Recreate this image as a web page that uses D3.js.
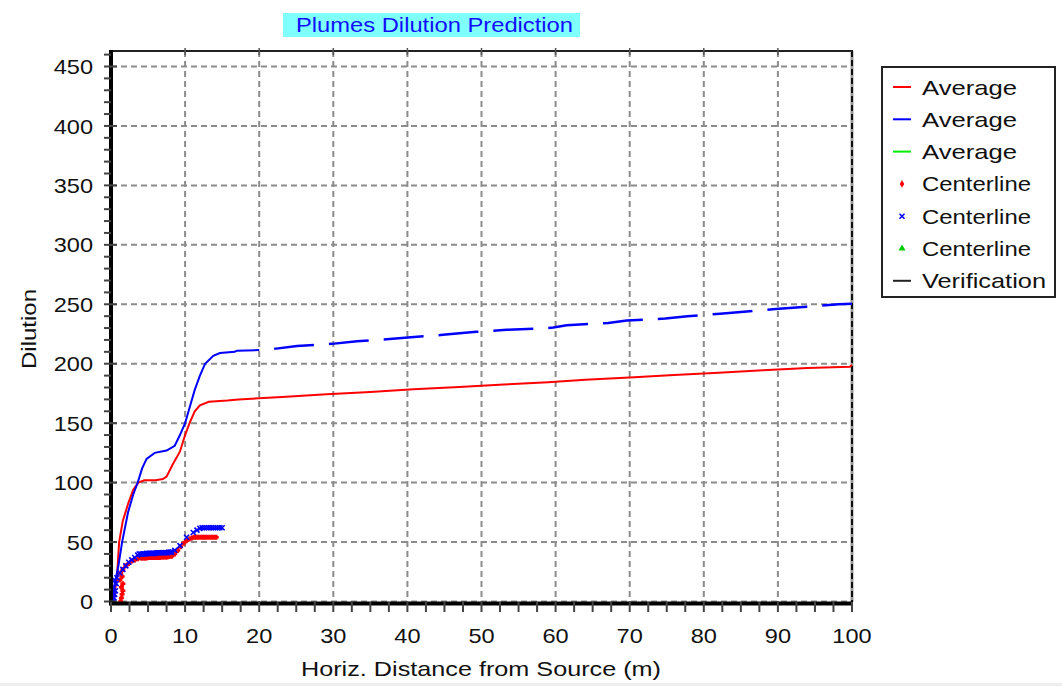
<!DOCTYPE html>
<html><head><meta charset="utf-8">
<script src="https://cdn.jsdelivr.net/npm/d3@7"></script>
<style>
html,body{margin:0;padding:0;background:#fff;}
svg{display:block;font-family:"Liberation Sans",Arial,sans-serif;}
</style></head>
<body>
<svg id="c" width="1062" height="686"></svg>
<script>
// ---------- DATA ----------
const xTicks = [0,10,20,30,40,50,60,70,80,90,100];
const yTicks = [0,50,100,150,200,250,300,350,400,450];

// Average dilution (red)
const redAvgX = [0.4,0.8,1.1,1.6,2.3,3.0,3.7,4.5,6.0,7.0,7.5,8.3,9.3,10.0,10.6,11.3,12.0,13.2,15.7,17.2,23.1,29.1,35.0,40.8,47,53,59,64,70,76,82,88,94,99.7,100];
const redAvgY = [3,20,50,68,82,94,100,102,102,103,105,115,126,140,150,160,165,168,169,170,172,174.3,176.3,178.5,180.5,182.5,184.5,186.5,188.5,190.5,192.5,194.5,196.5,197.5,199];

// Average dilution (blue), solid part
const blueAvgX = [0.2,0.5,1.0,1.5,2.3,3.0,3.6,4.2,4.8,5.9,7.5,8.6,9.3,10.0,10.6,11.3,12.0,12.7,13.8,14.7,16.7,17.0,20.0];
const blueAvgY = [0,15,30,50,75,90,100,112,120,125,127,131,140,150,163,178,190,200,206.6,209,210,211,211.5];
// Average dilution (blue), far part (dashed)
const blueFarX = [20.0,22.3,25.1,29.8,33.2,37.2,41.3,44.8,49.3,53.4,57.4,59.7,61.5,67.1,69.6,74.8,77.8,82.2,85.8,89.7,93.9,98.2,100];
const blueFarY = [211.5,212.7,215,216.7,219,220.6,222.6,224.3,226.8,228.5,229.5,230.4,232.4,234.3,236.3,238,240,242,244,246,248,250,250.5];

// Centerline dilution (red markers)
const redCX = [1.3,1.4,1.5,1.6,1.4,1.6,1.2,1.5,1.3,1.6,2.0,2.4,2.8,3.2,3.6,4.0,
  4.2,4.4,4.6,4.8,5.0,5.2,5.4,5.6,5.8,6.0,6.2,6.4,6.6,6.8,7.0,7.2,7.4,7.6,7.8,8.0,8.2,
  8.6,9.0,9.4,9.8,10.2,10.6,10.9,11.2,11.5,11.8,12.1,12.4,12.7,13.0,13.3,13.6,13.9,14.2];
const redCY = [0,3,6,9,12,15,18,21,24,27,30,32,34,35,36,36.5,
  36.5,36.5,36.5,36.5,37,37,37,37,37,37,37,37,37,37.5,37.5,37.5,37.5,37.5,38,38,38,
  40,43,46,49,51,52.5,53.5,54,54,54,54,54,54,54,54,54,54,54];

// Centerline dilution (blue markers)
const blueCX = [0.3,0.4,0.5,0.6,0.4,0.7,0.5,0.8,1.2,1.6,2.0,2.4,2.8,3.2,3.6,
  3.8,4.0,4.2,4.4,4.6,4.8,5.0,5.2,5.4,5.6,5.8,6.0,6.2,6.4,6.6,6.8,7.0,7.2,7.4,7.6,7.8,8.0,8.2,
  8.6,9.3,10.2,11.1,11.6,12.0,12.3,12.6,12.9,13.2,13.5,13.8,14.1,14.4,14.7,15.0];
const blueCY = [0,3,6,9,12,15,18,20,24,27,30,33,35,37,39,
  40,40,40,40,40,40.5,40.5,40.5,40.5,40.5,40.5,40.5,41,41,41,41,41,41,41,41,41.5,41.5,41.5,
  43,47,54,58,60,61.5,62,62,62,62,62,62,62,62,62,62];

const legendLabels = ["Average","Average","Average","Centerline","Centerline","Centerline","Verification"];
const legendColors = ["#ff0000","#0000ff","#00ee00","#ff0000","#0000ff","#00cc00","#222222"];
const legendKinds  = ["line","line","line","plus","cross","tri","line"];

// ---------- CHART ----------
const svg = d3.select("#c");
const L=111, R=852, T=51, B=602;
const x = d3.scaleLinear().domain([0,100]).range([L,R]);
const y = d3.scaleLinear().domain([0,450]).range([601.5,66.5]);
const FS = 21;

// bottom light band
svg.append("rect").attr("x",0).attr("y",683).attr("width",1062).attr("height",3).attr("fill","#eeeeee");

// grid
const grid = svg.append("g").attr("stroke","#8c8c8c").attr("stroke-width",2).attr("stroke-dasharray","6,4");
grid.selectAll("line.v").data(xTicks.filter(d=>d>0&&d<100)).join("line")
  .attr("x1",d=>x(d)).attr("x2",d=>x(d)).attr("y1",T).attr("y2",B);
grid.selectAll("line.h").data(yTicks).join("line")
  .attr("y1",d=>y(d)).attr("y2",d=>y(d)).attr("x1",L).attr("x2",R);

// right border (dashed dark over gray)
svg.append("line").attr("x1",R).attr("x2",R).attr("y1",T).attr("y2",B).attr("stroke","#999").attr("stroke-width",3);
svg.append("line").attr("x1",R).attr("x2",R).attr("y1",T).attr("y2",B).attr("stroke","#111").attr("stroke-width",2).attr("stroke-dasharray","6,3");
// top border
svg.append("line").attr("x1",L).attr("x2",R+1).attr("y1",T).attr("y2",T).attr("stroke","#222").attr("stroke-width",2);
// top ticks at majors
svg.append("g").selectAll("line").data(xTicks.filter(d=>d>0&&d<100)).join("line")
  .attr("x1",d=>x(d)).attr("x2",d=>x(d)).attr("y1",T-3).attr("y2",T+4).attr("stroke","#555").attr("stroke-width",1.5);

// lines
const line = d3.line().x(d=>x(d[0])).y(d=>y(d[1]));
const zip = (a,b)=>a.map((v,i)=>[v,b[i]]);
const plot = svg.append("g");
plot.append("path").attr("d",line(zip(redAvgX,redAvgY))).attr("fill","none").attr("stroke","#ff0000").attr("stroke-width",2);
plot.append("path").attr("d",line(zip(blueAvgX,blueAvgY))).attr("fill","none").attr("stroke","#0000ff").attr("stroke-width",2);
plot.append("path").attr("d",line(zip(blueFarX,blueFarY))).attr("fill","none").attr("stroke","#0000ff").attr("stroke-width",2.5)
  .attr("stroke-dasharray","40,15").attr("stroke-dashoffset",40);

// markers
const plusPath = "M-2.5,0L2.5,0M0,-2.5L0,2.5";
const crossPath = "M-2.5,-2.5L2.5,2.5M2.5,-2.5L-2.5,2.5";
plot.append("g").selectAll("path").data(zip(redCX,redCY)).join("path")
  .attr("transform",d=>`translate(${x(d[0])},${y(d[1])})`).attr("d",plusPath)
  .attr("stroke","#ff0000").attr("stroke-width",2.5).attr("fill","none");
plot.append("g").selectAll("path").data(zip(blueCX,blueCY)).join("path")
  .attr("transform",d=>`translate(${x(d[0])},${y(d[1])})`).attr("d",crossPath)
  .attr("stroke","#0000ff").attr("stroke-width",1.6).attr("fill","none");

// axes
const yAxis = svg.append("g");
yAxis.append("line").attr("x1",L).attr("x2",L).attr("y1",T-1).attr("y2",B+3).attr("stroke","#000").attr("stroke-width",4);
const yMinor = d3.range(0,461,10);
yAxis.selectAll("line.t").data(yMinor).join("line")
  .attr("x1",d=> d%50===0 ? L-7 : L-7).attr("x2",d=> d%50===0 ? L+6 : L)
  .attr("y1",d=>y(d)).attr("y2",d=>y(d)).attr("stroke","#444").attr("stroke-width",2);
yAxis.selectAll("text").data(yTicks).join("text")
  .attr("x",93).attr("y",d=>y(d)).attr("dy","0.36em").attr("text-anchor","end")
  .attr("font-size",FS).attr("fill","#111").attr("class","sx").text(d=>d);

const xAxis = svg.append("g");
xAxis.append("line").attr("x1",L-2).attr("x2",R+1).attr("y1",B+1.5).attr("y2",B+1.5).attr("stroke","#000").attr("stroke-width",4);
const xMinor = d3.range(0,100.1,2.5);
xAxis.selectAll("line.t").data(xMinor).join("line")
  .attr("x1",d=>x(d)).attr("x2",d=>x(d)).attr("y1",B).attr("y2",B+10)
  .attr("stroke","#444").attr("stroke-width",2);
xAxis.selectAll("text").data(xTicks).join("text")
  .attr("x",d=>x(d)).attr("y",643).attr("text-anchor","middle")
  .attr("font-size",FS).attr("fill","#111").attr("class","sx").text(d=>d);

// axis titles
svg.append("text").attr("x",481).attr("y",676).attr("text-anchor","middle").attr("font-size",FS)
  .attr("fill","#111").attr("textLength",360).attr("lengthAdjust","spacingAndGlyphs")
  .text("Horiz. Distance from Source (m)");
svg.append("text").attr("transform","translate(36,329) rotate(-90)").attr("text-anchor","middle").attr("font-size",FS)
  .attr("fill","#111").attr("textLength",80).attr("lengthAdjust","spacingAndGlyphs").text("Dilution");

// title
svg.append("rect").attr("x",283).attr("y",13).attr("width",297).attr("height",24).attr("fill","#80ffff");
svg.append("text").attr("x",434.5).attr("y",32).attr("text-anchor","middle").attr("font-size",FS)
  .attr("fill","#1010ff").attr("textLength",277).attr("lengthAdjust","spacingAndGlyphs")
  .text("Plumes Dilution Prediction");

// legend
const lg = svg.append("g");
lg.append("rect").attr("x",882).attr("y",67).attr("width",173).attr("height",230)
  .attr("fill","#fff").attr("stroke","#222").attr("stroke-width",2);
const legW = {"Average":95,"Centerline":109,"Verification":124};
legendLabels.forEach((lab,i)=>{
  const cy = 87 + i*32.3;
  const c = legendColors[i], k = legendKinds[i];
  if(k==="line"){
    lg.append("line").attr("x1",893).attr("x2",911).attr("y1",cy).attr("y2",cy).attr("stroke",c).attr("stroke-width",2);
  } else if(k==="plus"){
    lg.append("path").attr("transform",`translate(902,${cy})`).attr("d",d3.symbol(d3.symbolDiamond,18)()).attr("fill",c);
  } else if(k==="cross"){
    lg.append("path").attr("transform",`translate(902,${cy})`).attr("d","M-2.5,-2.5L2.5,2.5M2.5,-2.5L-2.5,2.5").attr("stroke",c).attr("stroke-width",1.6);
  } else {
    lg.append("path").attr("transform",`translate(902,${cy})`).attr("d",d3.symbol(d3.symbolTriangle,22)()).attr("fill",c);
  }
  lg.append("text").attr("x",922).attr("y",cy).attr("dy","0.36em").attr("font-size",FS).attr("fill","#111")
    .attr("textLength",legW[lab]).attr("lengthAdjust","spacingAndGlyphs").text(lab);
});

// stretch tick labels horizontally
svg.selectAll("text.sx").each(function(){
  const w = this.getComputedTextLength();
  this.setAttribute("textLength", (w*1.12).toFixed(1));
  this.setAttribute("lengthAdjust","spacingAndGlyphs");
});
</script>
</body></html>
